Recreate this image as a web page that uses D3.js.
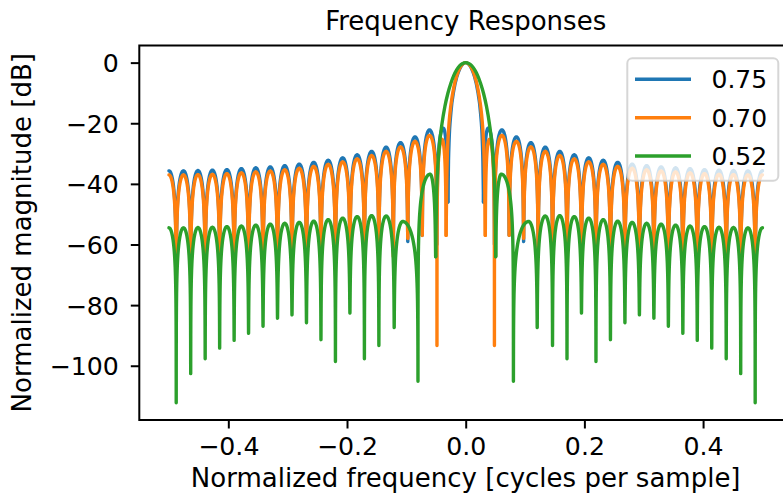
<!DOCTYPE html>
<html>
<head>
<meta charset="utf-8">
<script src="https://cdn.jsdelivr.net/npm/d3@7"></script>
<style>
  html, body { margin: 0; padding: 0; background: #ffffff; }
  svg { display: block; font-family: "DejaVu Sans", sans-serif; }
</style>
</head>
<body>
<svg id="chart" width="783" height="504"></svg>
<script>
// ---------------- data ----------------
const seriesLabels = ["0.75", "0.70", "0.52"];
const seriesColors = ["#1f77b4", "#ff7f0e", "#2ca02c"];

const xTickValues = [-0.4, -0.2, 0.0, 0.2, 0.4];
const xTickLabels = ["\u22120.4", "\u22120.2", "0.0", "0.2", "0.4"];
const yTickValues = [0, -20, -40, -60, -80, -100];
const yTickLabels = ["0", "\u221220", "\u221240", "\u221260", "\u221280", "\u2212100"];

// [normalized frequency, dB] : alternating side-lobe peaks and nulls
const blueLeft = [[-0.5,-35.7],[-0.4878,-62],[-0.4756,-35.7],[-0.4634,-62],[-0.4512,-35.6],[-0.4390,-62],[-0.4268,-35.5],[-0.4146,-62],[-0.4024,-35.3],[-0.3902,-62],[-0.3780,-35.0],[-0.3659,-62],[-0.3537,-34.7],[-0.3415,-62],[-0.3293,-34.4],[-0.3171,-62],[-0.3049,-34.0],[-0.2927,-62],[-0.2805,-33.5],[-0.2683,-62],[-0.2561,-32.9],[-0.2439,-62],[-0.2317,-32.2],[-0.2195,-62],[-0.2073,-31.4],[-0.1951,-62],[-0.1829,-30.4],[-0.1707,-62],[-0.1585,-29.3],[-0.1463,-62],[-0.1341,-27.9],[-0.1220,-62],[-0.1098,-26.4],[-0.0976,-59],[-0.0854,-24.5],[-0.0732,-57],[-0.0610,-22.2],[-0.0485,-60],[-0.0380,-21.6],[-0.0300,-46]];
const blueMain = [[-0.0300,-46],[-0.0290,-32.5],[-0.0280,-25.8],[-0.0250,-16.6],[-0.0200,-9.1],[-0.0150,-4.7],[-0.0100,-2.0],[-0.0050,-0.5],[0,0],[0.0050,-0.5],[0.0100,-2.0],[0.0150,-4.7],[0.0200,-9.1],[0.0250,-16.6],[0.0280,-25.8],[0.0290,-32.5],[0.0300,-46]];
const blueRight = [[0.0300,-46],[0.0380,-21.6],[0.0485,-60],[0.0610,-22.2],[0.0732,-57],[0.0854,-24.5],[0.0976,-59],[0.1098,-26.4],[0.1220,-62],[0.1341,-27.9],[0.1463,-62],[0.1585,-29.3],[0.1707,-62],[0.1829,-30.4],[0.1951,-62],[0.2073,-31.4],[0.2195,-62],[0.2317,-32.2],[0.2439,-62],[0.2561,-32.9],[0.2683,-62],[0.2805,-33.5],[0.2927,-62],[0.3049,-34.0],[0.3171,-62],[0.3293,-34.4],[0.3415,-62],[0.3537,-34.7],[0.3659,-62],[0.3780,-35.0],[0.3902,-62],[0.4024,-35.3],[0.4146,-62],[0.4268,-35.5],[0.4390,-62],[0.4512,-35.6],[0.4634,-62],[0.4756,-35.7],[0.4878,-62],[0.5,-35.7]];

const orangeLeft = [[-0.5,-37.05],[-0.4878,-64],[-0.4756,-37.05],[-0.4634,-64],[-0.4512,-36.95],[-0.4390,-64],[-0.4268,-36.85],[-0.4146,-64],[-0.4024,-36.65],[-0.3902,-64],[-0.3780,-36.35],[-0.3659,-64],[-0.3537,-36.05],[-0.3415,-64],[-0.3293,-35.75],[-0.3171,-64],[-0.3049,-35.35],[-0.2927,-64],[-0.2805,-34.85],[-0.2683,-64],[-0.2561,-34.25],[-0.2439,-64],[-0.2317,-33.55],[-0.2195,-64],[-0.2073,-32.75],[-0.1951,-64],[-0.1829,-31.75],[-0.1707,-64],[-0.1585,-30.65],[-0.1463,-64],[-0.1341,-29.3],[-0.1220,-64],[-0.1098,-27.8],[-0.0976,-58],[-0.0854,-26.0],[-0.0732,-57],[-0.0610,-24.0],[-0.0484,-93.3],[-0.0400,-25.3],[-0.0330,-57]];
const orangeMain = [[-0.0330,-57],[-0.0320,-39.5],[-0.0310,-30.9],[-0.0300,-25.8],[-0.0280,-19.8],[-0.0250,-14.1],[-0.0200,-8.1],[-0.0150,-4.25],[-0.0100,-1.8],[-0.0050,-0.45],[0,0],[0.0050,-0.45],[0.0100,-1.8],[0.0150,-4.25],[0.0200,-8.1],[0.0250,-14.1],[0.0280,-19.8],[0.0300,-25.8],[0.0310,-30.9],[0.0320,-39.5],[0.0330,-57]];
const orangeRight = [[0.0330,-57],[0.0400,-25.3],[0.0484,-93.3],[0.0610,-24.0],[0.0732,-57],[0.0854,-26.0],[0.0976,-58],[0.1098,-27.8],[0.1220,-64],[0.1341,-29.3],[0.1463,-64],[0.1585,-30.65],[0.1707,-64],[0.1829,-31.75],[0.1951,-64],[0.2073,-32.75],[0.2195,-64],[0.2317,-33.55],[0.2439,-64],[0.2561,-34.25],[0.2683,-64],[0.2805,-34.85],[0.2927,-64],[0.3049,-35.35],[0.3171,-64],[0.3293,-35.75],[0.3415,-64],[0.3537,-36.05],[0.3659,-64],[0.3780,-36.35],[0.3902,-64],[0.4024,-36.65],[0.4146,-64],[0.4268,-36.85],[0.4390,-64],[0.4512,-36.95],[0.4634,-64],[0.4756,-37.05],[0.4878,-64],[0.5,-37.05]];

const greenLeft = [[-0.5,-54.5],[-0.4878,-112.2],[-0.4756,-54.5],[-0.4634,-102.6],[-0.4512,-54.4],[-0.4390,-97.7],[-0.4268,-54.3],[-0.4146,-94.2],[-0.4024,-54.1],[-0.3902,-91.6],[-0.3780,-53.9],[-0.3659,-89.3],[-0.3537,-53.6],[-0.3415,-87.0],[-0.3293,-53.3],[-0.3171,-84.3],[-0.3049,-53.0],[-0.2927,-83.2],[-0.2805,-52.7],[-0.2683,-85.8],[-0.2561,-52.3],[-0.2439,-91.4],[-0.2317,-51.8],[-0.2195,-98.6],[-0.2073,-51.3],[-0.1951,-82.6],[-0.1829,-50.8],[-0.1707,-97.7],[-0.1585,-50.5],[-0.1463,-93.3],[-0.1341,-50.6],[-0.1205,-87.4],[-0.1060,-52.4],[-0.0804,-105.1],[-0.0600,-36.8],[-0.0506,-64]];
const greenMain = [[-0.0506,-64],[-0.0500,-54.3],[-0.0490,-43.1],[-0.0480,-37.8],[-0.0450,-28.7],[-0.0400,-20.2],[-0.0350,-14.4],[-0.0300,-10.1],[-0.0250,-6.8],[-0.0200,-4.2],[-0.0150,-2.3],[-0.0100,-1.0],[-0.0050,-0.26],[0,0],[0.0050,-0.26],[0.0100,-1.0],[0.0150,-2.3],[0.0200,-4.2],[0.0250,-6.8],[0.0300,-10.1],[0.0350,-14.4],[0.0400,-20.2],[0.0450,-28.7],[0.0480,-37.8],[0.0490,-43.1],[0.0500,-54.3],[0.0506,-64]];
const greenRight = [[0.0506,-64],[0.0600,-36.8],[0.0804,-105.1],[0.1060,-52.4],[0.1205,-87.4],[0.1341,-50.6],[0.1463,-93.3],[0.1585,-50.5],[0.1707,-97.7],[0.1829,-50.8],[0.1951,-82.6],[0.2073,-51.3],[0.2195,-98.6],[0.2317,-51.8],[0.2439,-91.4],[0.2561,-52.3],[0.2683,-85.8],[0.2805,-52.7],[0.2927,-83.2],[0.3049,-53.0],[0.3171,-84.3],[0.3293,-53.3],[0.3415,-87.0],[0.3537,-53.6],[0.3659,-89.3],[0.3780,-53.9],[0.3902,-91.6],[0.4024,-54.1],[0.4146,-94.2],[0.4268,-54.3],[0.4390,-97.7],[0.4512,-54.4],[0.4634,-102.6],[0.4756,-54.5],[0.4878,-112.2],[0.5,-54.5]];

const series = [
  { label: seriesLabels[0], color: seriesColors[0], left: blueLeft,   main: blueMain,   right: blueRight },
  { label: seriesLabels[1], color: seriesColors[1], left: orangeLeft, main: orangeMain, right: orangeRight },
  { label: seriesLabels[2], color: seriesColors[2], left: greenLeft,  main: greenMain,  right: greenRight }
];

// ---------------- layout ----------------
const W = 783, H = 504;
const axL = 139.3, axR = 792.1, axT = 45.5, axB = 420;
const FS_TICK = 25.2, FS_LABEL = 26, FS_TITLE = 26, FS_LEG = 25;

const x = d3.scaleLinear().domain([-0.55, 0.55]).range([axL, axR]);
const y = d3.scaleLinear().domain([-117.9, 5.65]).range([axB, axT]);
const PX_PER_DB = Math.abs(y(0) - y(1));

const svg = d3.select("#chart");

svg.append("defs").append("clipPath").attr("id", "clip")
  .append("rect").attr("x", axL).attr("y", axT).attr("width", axR - axL).attr("height", axB - axT);

// custom curve: arch-shaped side lobes between listed peaks and nulls
function curveLobe(context) {
  let pts = [];
  return {
    areaStart() {}, areaEnd() {},
    lineStart() { pts = []; },
    point(px, py) { pts.push([+px, +py]); },
    lineEnd() {
      if (!pts.length) return;
      const N = 40;
      context.moveTo(pts[0][0], pts[0][1]);
      for (let i = 1; i < pts.length; i++) {
        const a = pts[i - 1], b = pts[i];
        const rising = b[1] < a[1];
        const nul = rising ? a : b, pk = rising ? b : a;
        const depth = (nul[1] - pk[1]) / PX_PER_DB;
        const eps = Math.pow(10, -depth / 20);
        const seq = [];
        for (let j = 0; j <= N; j++) seq.push((j / N) * (j / N));
        const order = rising ? seq.slice(1) : seq.slice(0, -1).reverse();
        for (const s of order) {
          const xx = nul[0] + s * (pk[0] - nul[0]);
          const amp = Math.sqrt(Math.pow(Math.sin(Math.PI / 2 * s), 2) + eps * eps);
          const yy = pk[1] - PX_PER_DB * 20 * Math.log10(amp);
          context.lineTo(xx, yy);
        }
      }
    }
  };
}

const lobeLine = d3.line().x(d => x(d[0])).y(d => y(d[1])).curve(curveLobe);
const mainLine = d3.line().x(d => x(d[0])).y(d => y(d[1])).curve(d3.curveMonotoneX);

// ---------------- axes ----------------
const xAxis = d3.axisBottom(x).tickValues(xTickValues)
  .tickFormat((d, i) => xTickLabels[i]).tickSize(8.5).tickSizeOuter(0).tickPadding(8.5);
const yAxis = d3.axisLeft(y).tickValues(yTickValues)
  .tickFormat((d, i) => yTickLabels[i]).tickSize(8.5).tickSizeOuter(0).tickPadding(12);

const gx = svg.append("g").attr("transform", `translate(0,${axB})`).call(xAxis);
const gy = svg.append("g").attr("transform", `translate(${axL},0)`).call(yAxis);
[gx, gy].forEach(g => {
  g.selectAll("text").attr("font-size", FS_TICK).attr("font-family", "DejaVu Sans").attr("fill", "#000");
  g.selectAll("line").attr("stroke", "#000").attr("stroke-width", 2);
  g.select(".domain").remove();
});
gy.selectAll("text").attr("dy", "0.36em");

// ---------------- lines ----------------
const plot = svg.append("g").attr("clip-path", "url(#clip)");
series.forEach(s => {
  const g = plot.append("g")
    .attr("fill", "none").attr("stroke", s.color)
    .attr("stroke-width", 3.4).attr("stroke-linejoin", "round").attr("stroke-linecap", "round");
  g.append("path").attr("d", lobeLine(s.left));
  g.append("path").attr("d", mainLine(s.main));
  g.append("path").attr("d", lobeLine(s.right));
});

// spines
svg.append("rect").attr("x", axL).attr("y", axT).attr("width", axR - axL).attr("height", axB - axT)
  .attr("fill", "none").attr("stroke", "#000").attr("stroke-width", 2);

// ---------------- labels ----------------
svg.append("text").attr("x", x(0)).attr("y", 30).attr("text-anchor", "middle")
  .attr("font-size", FS_TITLE).text("Frequency Responses");
svg.append("text").attr("x", (axL + axR) / 2).attr("y", 487).attr("text-anchor", "middle")
  .attr("font-size", FS_LABEL).text("Normalized frequency [cycles per sample]");
svg.append("text").attr("transform", `translate(31,${(axT + axB) / 2}) rotate(-90)`)
  .attr("text-anchor", "middle").attr("font-size", FS_LABEL).text("Normalized magnitude [dB]");

// ---------------- legend ----------------
const lg = svg.append("g");
lg.append("rect").attr("x", 627.3).attr("y", 58.3).attr("width", 151).attr("height", 122.4)
  .attr("rx", 5).attr("ry", 5)
  .attr("fill", "#ffffff").attr("fill-opacity", 0.8)
  .attr("stroke", "#cccccc").attr("stroke-opacity", 0.8).attr("stroke-width", 2);
const legendY = [79.3, 117.7, 156];
series.forEach((s, i) => {
  lg.append("line").attr("x1", 635).attr("x2", 691).attr("y1", legendY[i]).attr("y2", legendY[i])
    .attr("stroke", s.color).attr("stroke-width", 3.4);
  lg.append("text").attr("x", 711.5).attr("y", legendY[i]).attr("dy", "0.36em")
    .attr("font-size", FS_LEG).text(s.label);
});
</script>
</body>
</html>
